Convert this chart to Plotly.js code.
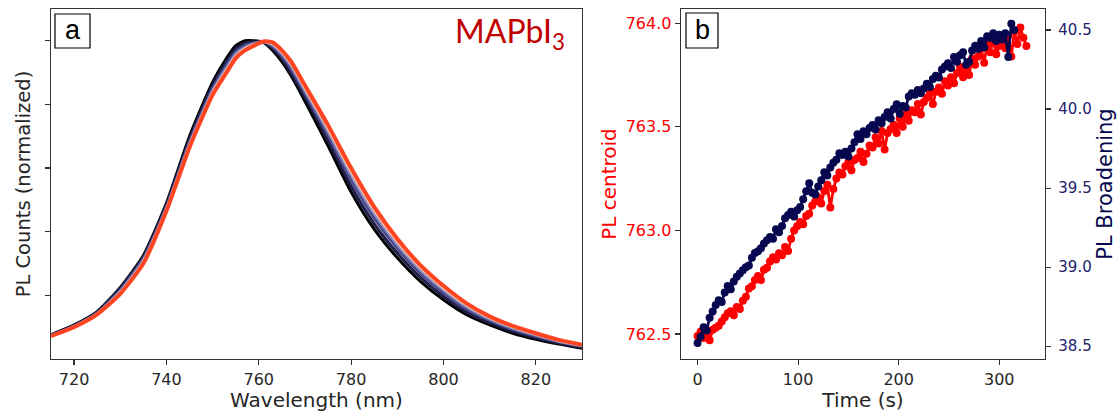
<!DOCTYPE html>
<html>
<head>
<meta charset="utf-8">
<script src="https://cdn.plot.ly/plotly-3.0.1.min.js"></script>
<style>html,body{margin:0;padding:0;background:#fff;}#chart{width:1120px;height:414px;}</style>
</head>
<body>
<div id="chart"></div>
<script>
// ---- Panel a: normalized PL spectra (early -> late) ----
const wavelength = [715,720,725,730,735,740,745,750,753,755,757,759,761,763,765,767,770,775,780,785,790,795,800,805,810,815,820,825,830];
const spec1 = [0.076,0.107,0.149,0.225,0.325,0.490,0.700,0.870,0.945,0.985,1.000,1.000,0.995,0.970,0.935,0.890,0.810,0.670,0.525,0.408,0.318,0.244,0.186,0.139,0.107,0.081,0.062,0.047,0.034];
const spec2 = [0.075,0.105,0.147,0.222,0.320,0.484,0.690,0.860,0.935,0.975,0.993,0.997,0.996,0.976,0.944,0.900,0.823,0.688,0.543,0.425,0.333,0.257,0.197,0.148,0.114,0.087,0.067,0.050,0.037];
const spec3 = [0.074,0.104,0.145,0.217,0.316,0.478,0.683,0.850,0.923,0.965,0.985,0.993,0.997,0.982,0.952,0.912,0.835,0.703,0.562,0.443,0.348,0.270,0.208,0.157,0.121,0.093,0.072,0.054,0.040];
const spec4 = [0.073,0.102,0.143,0.212,0.310,0.473,0.675,0.842,0.914,0.958,0.979,0.990,0.998,0.987,0.960,0.922,0.845,0.716,0.578,0.458,0.360,0.280,0.217,0.164,0.126,0.097,0.075,0.056,0.042];
const spec5 = [0.072,0.101,0.141,0.208,0.305,0.469,0.670,0.836,0.907,0.951,0.975,0.988,0.998,0.991,0.965,0.928,0.852,0.725,0.589,0.468,0.369,0.288,0.224,0.170,0.130,0.101,0.078,0.058,0.044];
const spec6 = [0.072,0.100,0.140,0.205,0.300,0.465,0.665,0.830,0.900,0.945,0.970,0.985,0.998,0.995,0.970,0.935,0.860,0.735,0.600,0.478,0.378,0.295,0.230,0.175,0.134,0.104,0.081,0.060,0.045];
const spectra = [spec1, spec2, spec3, spec4, spec5, spec6];
const specColors = ['#000000','#1e1e48','#4a4a8c','#8c8cc0','#f2c0a8','#ff4422'];
const specWidths = [3,3,3,3,3,4];

// ---- Panel b: time series ----
const timeS = [0,3,6,9,12,15,18,21,24,27,30,33,36,39,42,45,48,51,54,57,60,63,66,69,72,75,78,81,84,87,90,93,96,99,102,105,108,111,114,117,120,123,126,129,132,135,138,141,144,147,150,153,156,159,162,165,168,171,174,177,180,183,186,189,192,195,198,201,204,207,210,213,216,219,222,225,228,231,234,237,240,243,246,249,252,255,258,261,264,267,270,273,276,279,282,285,288,291,294,297,300,303,306,309,312,315,318,321,324,327];
const centroid = [762.49,762.51,762.48,762.50,762.47,762.52,762.53,762.54,762.56,762.58,762.60,762.61,762.59,762.63,762.62,762.66,762.68,762.72,762.73,762.76,762.78,762.76,762.81,762.82,762.85,762.87,762.86,762.89,762.88,762.92,762.90,762.96,763.00,763.02,763.04,763.03,763.07,763.08,763.12,763.14,763.16,763.13,763.19,763.22,763.11,763.20,763.25,763.28,763.27,763.31,763.33,763.29,763.34,763.35,763.38,763.33,763.37,763.41,763.40,763.45,763.42,763.48,763.39,763.47,763.49,763.51,763.47,763.54,763.50,763.56,763.53,763.58,763.57,763.61,763.56,763.62,763.64,763.66,763.61,763.67,763.69,763.66,763.72,763.70,763.74,763.71,763.76,763.79,763.74,763.77,763.75,763.83,763.80,763.84,763.88,763.81,763.90,763.86,763.92,763.85,763.89,763.93,763.88,763.94,763.84,763.96,763.90,763.98,763.93,763.89];
const broadening = [38.52,38.56,38.62,38.60,38.68,38.72,38.76,38.79,38.78,38.84,38.88,38.86,38.91,38.94,38.96,38.98,39.00,39.01,39.06,39.09,39.10,39.12,39.15,39.17,39.19,39.18,39.24,39.22,39.26,39.31,39.33,39.35,39.32,39.36,39.38,39.43,39.48,39.53,39.47,39.46,39.51,39.55,39.60,39.58,39.63,39.66,39.68,39.72,39.71,39.73,39.70,39.75,39.79,39.84,39.81,39.86,39.84,39.88,39.90,39.87,39.93,39.91,39.95,39.98,39.94,40.00,40.03,39.97,40.02,40.01,40.08,40.10,40.09,40.12,40.10,40.13,40.16,40.14,40.19,40.21,40.20,40.25,40.27,40.29,40.26,40.33,40.30,40.34,40.36,40.28,40.30,40.37,40.40,40.38,40.43,40.39,40.46,40.45,40.48,40.43,40.47,40.44,40.48,40.33,40.54,40.50];

const xTicksA = [720,740,760,780,800,820];
const yTicksA = [0.2,0.4,0.6,0.8,1.0];
const xTicksB = [0,100,200,300];
const yTicksCentroid = [762.5,763.0,763.5,764.0];
const yTicksBroad = [38.5,39.0,39.5,40.0,40.5];

const RED = '#ff0000';
const NAVY = '#07074f';
const NAVYTXT = '#22226e';
const AX = '#333333';
const TXT = '#262626';

const traces = [];
spectra.forEach((s, i) => {
  traces.push({x: wavelength, y: s, type: 'scatter', mode: 'lines', xaxis: 'x', yaxis: 'y',
    line: {color: specColors[i], width: specWidths[i], shape: 'spline', smoothing: 0.6}, hoverinfo: 'skip'});
});
traces.push({x: timeS, y: centroid, type: 'scatter', mode: 'lines+markers', xaxis: 'x2', yaxis: 'y2',
  line: {color: RED, width: 2.8}, marker: {color: RED, size: 8}});
traces.push({x: timeS.slice(0, broadening.length), y: broadening, type: 'scatter', mode: 'lines+markers', xaxis: 'x2', yaxis: 'y3',
  line: {color: NAVY, width: 2.8}, marker: {color: NAVY, size: 8}});

const W = 1120, H = 414;
const xdomA = [51/W, 582/W];
const xdomB = [681/W, 1045/W];
const ydom = [(H-359)/H, (H-9)/H];

const axBase = {showline: true, linecolor: AX, linewidth: 1.3, ticks: 'outside', ticklen: 5, tickwidth: 1.2, tickcolor: AX,
  showgrid: false, zeroline: false, tickfont: {size: 16, color: TXT}};

const layout = {
  width: W, height: H, margin: {l: 0, r: 0, t: 0, b: 0},
  paper_bgcolor: '#ffffff', plot_bgcolor: '#ffffff', showlegend: false,
  font: {family: 'DejaVu Sans, sans-serif', size: 16, color: TXT},
  xaxis: Object.assign({}, axBase, {domain: xdomA, anchor: 'y', range: [715, 830], tickvals: xTicksA, mirror: true,
    title: {text: 'Wavelength (nm)', font: {size: 20, color: TXT}, standoff: 3}}),
  yaxis: Object.assign({}, axBase, {domain: ydom, anchor: 'x', range: [0, 1.1], tickvals: yTicksA, showticklabels: false, mirror: true,
    title: {text: 'PL Counts (normalized)', font: {size: 19.5, color: TXT}, standoff: 9}}),
  xaxis2: Object.assign({}, axBase, {domain: xdomB, anchor: 'y2', range: [-16.5, 345.5], tickvals: xTicksB, mirror: true,
    title: {text: 'Time (s)', font: {size: 20, color: TXT}, standoff: 3}}),
  yaxis2: Object.assign({}, axBase, {domain: ydom, anchor: 'x2', range: [762.379, 764.069], tickvals: yTicksCentroid, tickformat: '.1f',
    tickfont: {size: 16, color: RED}, mirror: true,
    title: {text: 'PL centroid', font: {size: 20, color: RED}, standoff: 3}}),
  yaxis3: Object.assign({}, axBase, {domain: ydom, anchor: 'x2', overlaying: 'y2', side: 'right', range: [38.419, 40.633], tickvals: yTicksBroad, tickformat: '.1f',
    tickfont: {size: 15, color: NAVYTXT}, ticklabelstandoff: 4,
    title: {text: 'PL Broadening', font: {size: 21, color: NAVY}, standoff: 6}}),
  shapes: [
    {type: 'rect', xref: 'paper', yref: 'paper', x0: 55/W, x1: 90/W, y0: (H-48)/H, y1: (H-14)/H, line: {color: '#000', width: 1.2}, fillcolor: '#fff', layer: 'above'},
    {type: 'rect', xref: 'paper', yref: 'paper', x0: 686/W, x1: 718/W, y0: (H-48)/H, y1: (H-13)/H, line: {color: '#000', width: 1.2}, fillcolor: '#fff', layer: 'above'}
  ],
  annotations: [
    {text: 'a', xref: 'paper', yref: 'paper', x: 72.5/W, y: (H-30)/H, xanchor: 'center', yanchor: 'middle', showarrow: false,
      font: {family: 'Liberation Sans, Arial, sans-serif', size: 27, color: '#000'}},
    {text: 'b', xref: 'paper', yref: 'paper', x: 702/W, y: (H-30)/H, xanchor: 'center', yanchor: 'middle', showarrow: false,
      font: {family: 'Liberation Sans, Arial, sans-serif', size: 27, color: '#000'}},
    {text: 'MAPbI<sub>3</sub>', xref: 'paper', yref: 'paper', x: 567/W, y: (H-33)/H, xanchor: 'right', yanchor: 'middle', showarrow: false,
      font: {family: 'Lato, Open Sans, sans-serif', size: 32, color: '#c00000'}}
  ]
};

Plotly.newPlot('chart', traces, layout, {staticPlot: true, displayModeBar: false});
</script>
</body>
</html>
